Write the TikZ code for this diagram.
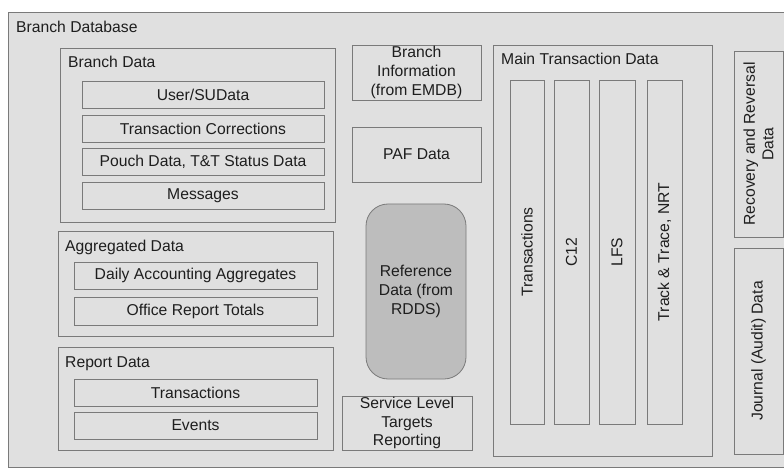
\documentclass[tikz,border=0pt]{standalone}
\usepackage{fontspec}
\setmainfont{Liberation Sans}
\definecolor{paper}{HTML}{E0E0E0}
\definecolor{refgrey}{HTML}{BDBDBD}
\definecolor{edge}{HTML}{7A7A7A}
\definecolor{ink}{HTML}{1E1E1E}
\tikzset{
  box/.style={draw=edge, line width=0.8pt, rectangle, inner sep=0pt,
    text=ink, align=center, font=\fontsize{15.7}{18.7}\selectfont},
  title/.style={anchor=base west, inner sep=0pt, text=ink,
    font=\fontsize{15.7}{18.7}\selectfont},
  vbox/.style={box, rotate=90},
}
\begin{document}
\begin{tikzpicture}[x=1pt, y=-1pt]
\useasboundingbox (0,0) rectangle (784,473);
\clip (0,0) rectangle (784,473);

% outer database frame
\node[box, fill=paper, minimum width=782pt, minimum height=455pt] (db) at (399,239.5) {};
\node[title] (dbt) at (16,33) {Branch Database};

% branch data group
\node[box, minimum width=275pt, minimum height=174pt] (bd) at (197.5,135) {};
\node[title] (bdt) at (68,68) {Branch Data};
\node[box, minimum width=242pt, minimum height=27pt] (user) at (203,94.5) {User/SUData};
\node[box, minimum width=242pt, minimum height=27pt] (corr) at (203,128.5) {Transaction Corrections};
\node[box, minimum width=242pt, minimum height=27pt] (pouch) at (203,161.5) {Pouch Data, T\&T Status Data};
\node[box, minimum width=242pt, minimum height=27pt] (msg) at (203,195.5) {Messages};

% aggregated data group
\node[box, minimum width=275pt, minimum height=105pt] (agg) at (195.5,283.5) {};
\node[title] (aggt) at (65,251) {Aggregated Data};
\node[box, minimum width=243pt, minimum height=27pt] (daily) at (195.5,275.5) {Daily Accounting Aggregates};
\node[box, minimum width=243pt, minimum height=28pt] (office) at (195.5,311) {Office Report Totals};

% report data group
\node[box, minimum width=275pt, minimum height=103pt] (rep) at (195.5,398.5) {};
\node[title] (rept) at (65,367) {Report Data};
\node[box, minimum width=243pt, minimum height=27pt] (rtrans) at (195.5,392.5) {Transactions};
\node[box, minimum width=243pt, minimum height=27pt] (events) at (195.5,425.5) {Events};

% middle column
\node[box, minimum width=129pt, minimum height=55pt] (binfo) at (416.5,72.5) {Branch\\Information\\(from EMDB)};
\node[box, minimum width=129pt, minimum height=55pt] (paf) at (416.5,154.5) {PAF Data};
\node[box, fill=refgrey, rounded corners=22pt, minimum width=100pt, minimum height=175pt] (ref) at (416,291.5) {Reference\\Data (from\\RDDS)};
\node[box, minimum width=130pt, minimum height=54pt] (slt) at (407,423) {Service Level\\Targets\\Reporting};

% main transaction data group
\node[box, minimum width=219pt, minimum height=411pt] (main) at (602.5,250.5) {};
\node[title] (maint) at (501,65) {Main Transaction Data};
\node[vbox, minimum width=344pt, minimum height=34pt] (tcol) at (527,252) {Transactions};
\node[vbox, minimum width=344pt, minimum height=35pt] (c12) at (571.5,252) {C12};
\node[vbox, minimum width=344pt, minimum height=36pt] (lfs) at (617,252) {LFS};
\node[vbox, minimum width=344pt, minimum height=35pt] (track) at (664.5,252) {Track \& Trace, NRT};

% right-hand stores
\node[vbox, minimum width=186pt, minimum height=49pt] (recov) at (758.5,144) {Recovery and Reversal\\Data};
\node[vbox, minimum width=206pt, minimum height=49pt] (journal) at (758.5,351) {Journal (Audit) Data};
\end{tikzpicture}
\end{document}
